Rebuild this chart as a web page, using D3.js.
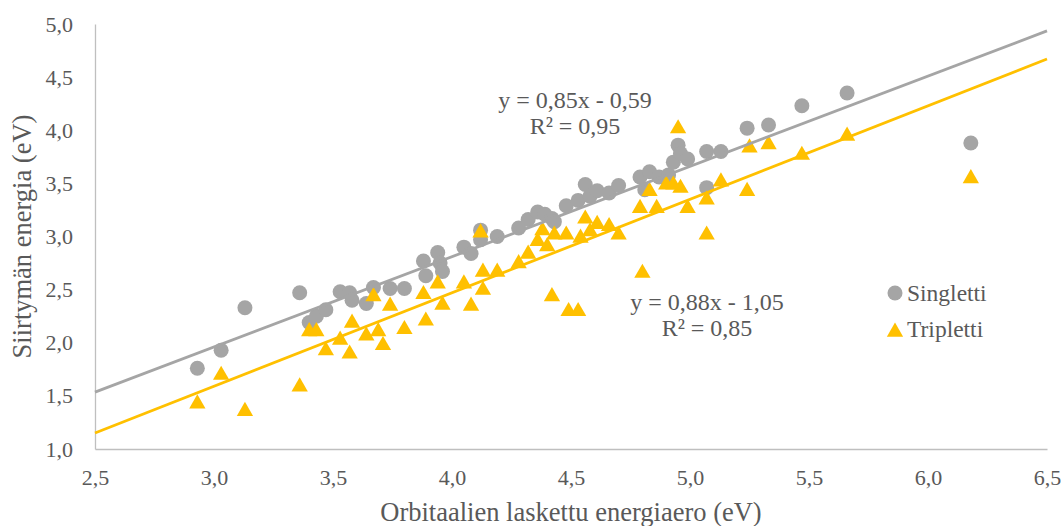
<!DOCTYPE html>
<html>
<head>
<meta charset="utf-8">
<script src="https://cdn.jsdelivr.net/npm/d3@7/dist/d3.min.js"></script>
<style>
  html, body { margin: 0; padding: 0; background: #ffffff; }
  svg { display: block; }
  text { font-family: "Liberation Serif", "Times New Roman", serif; fill: #595959; }
</style>
</head>
<body>
<svg id="chart" width="1064" height="526"></svg>
<script>
// Orbital energy gap (eV) vs. computed excitation energy (eV)
const singletX = [2.93, 3.03, 3.13, 3.36, 3.40, 3.43, 3.47, 3.53, 3.57, 3.58, 3.64, 3.67, 3.74, 3.80,
  3.88, 3.89, 3.94, 3.95, 3.96, 4.05, 4.08, 4.12, 4.12, 4.19, 4.28, 4.32, 4.36, 4.39, 4.42, 4.43,
  4.48, 4.53, 4.56, 4.58, 4.61, 4.66, 4.70, 4.79, 4.83, 4.81, 4.87, 4.91, 4.93, 4.95, 4.96, 4.99,
  5.07, 5.13, 5.07, 5.24, 5.33, 5.47, 5.66, 6.18];
const singletY = [1.76, 1.93, 2.33, 2.47, 2.19, 2.25, 2.31, 2.48, 2.47, 2.40, 2.37, 2.52, 2.51, 2.51,
  2.77, 2.63, 2.85, 2.75, 2.67, 2.90, 2.84, 3.06, 2.97, 3.00, 3.08, 3.16, 3.23, 3.21, 3.17, 3.14,
  3.29, 3.34, 3.49, 3.38, 3.43, 3.41, 3.48, 3.56, 3.61, 3.44, 3.56, 3.58, 3.70, 3.86, 3.78, 3.73,
  3.80, 3.80, 3.46, 4.02, 4.05, 4.23, 4.35, 3.88];

const tripletX = [2.93, 3.03, 3.13, 3.36, 3.40, 3.43, 3.47, 3.53, 3.57, 3.58, 3.64, 3.67, 3.69, 3.71,
  3.74, 3.80, 3.88, 3.89, 3.94, 3.96, 4.05, 4.08, 4.13, 4.13, 4.12, 4.19, 4.28, 4.32, 4.36, 4.38,
  4.40, 4.43, 4.42, 4.48, 4.49, 4.53, 4.54, 4.56, 4.58, 4.61, 4.66, 4.70, 4.79, 4.80, 4.83, 4.86,
  4.90, 4.93, 4.96, 4.95, 4.99, 5.07, 5.07, 5.13, 5.24, 5.25, 5.33, 5.47, 5.66, 6.18];
const tripletY = [1.44, 1.71, 1.37, 1.60, 2.12, 2.12, 1.94, 2.04, 1.91, 2.20, 2.08, 2.45, 2.12, 1.99,
  2.36, 2.14, 2.47, 2.22, 2.57, 2.37, 2.57, 2.36, 2.68, 2.51, 3.05, 2.68, 2.76, 2.85, 2.97, 3.07,
  2.92, 3.03, 2.45, 3.03, 2.31, 2.31, 3.00, 3.18, 3.06, 3.13, 3.11, 3.03, 3.28, 2.67, 3.44, 3.28,
  3.50, 3.50, 3.47, 4.03, 3.28, 3.36, 3.03, 3.53, 3.44, 3.85, 3.88, 3.78, 3.96, 3.56];

// Linear fits as reported on the chart: y = slope * x + intercept
const singletFit = { slope: 0.85, intercept: -0.59, r2: 0.95 };
const tripletFit = { slope: 0.88, intercept: -1.05, r2: 0.85 };

const xTicks = [2.5, 3.0, 3.5, 4.0, 4.5, 5.0, 5.5, 6.0, 6.5];
const yTicks = [1.0, 1.5, 2.0, 2.5, 3.0, 3.5, 4.0, 4.5, 5.0];
const seriesNames = ["Singletti", "Tripletti"];
const xTitle = "Orbitaalien laskettu energiaero (eV)";
const yTitle = "Siirtymän energia (eV)";

const colSinglet = "#a5a5a5";
const colTriplet = "#ffc000";
const axisColor = "#bfbfbf";

const fiLocale = d3.formatLocale({ decimal: ",", thousands: "\u00a0", grouping: [3], currency: ["", " €"] });
const fmt1 = fiLocale.format(".1f");
const fmt2 = fiLocale.format(".2f");

const svg = d3.select("#chart");
const x = d3.scaleLinear().domain([2.5, 6.5]).range([95, 1047]);
const y = d3.scaleLinear().domain([1.0, 5.0]).range([449, 24]);

// Axes
const xAxis = svg.append("g")
  .attr("transform", `translate(0,${y(1.0)})`)
  .call(d3.axisBottom(x).tickValues(xTicks).tickSize(0).tickPadding(20).tickFormat(fmt1));
const yAxis = svg.append("g")
  .attr("transform", `translate(${x(2.5)},0)`)
  .call(d3.axisLeft(y).tickValues(yTicks).tickSize(0).tickPadding(22).tickFormat(fmt1));

[xAxis, yAxis].forEach(g => {
  g.select(".domain").attr("stroke", axisColor).attr("stroke-width", 1.3);
  g.selectAll(".tick text")
    .attr("fill", "#595959")
    .style("font-family", "'Liberation Serif', 'Times New Roman', serif")
    .style("font-size", "22px");
});

// Axis titles
svg.append("text")
  .attr("x", (x(2.5) + x(6.5)) / 2)
  .attr("y", 521)
  .attr("text-anchor", "middle")
  .style("font-size", "26.5px")
  .text(xTitle);
svg.append("text")
  .attr("transform", `translate(31,${(y(1.0) + y(5.0)) / 2}) rotate(-90)`)
  .attr("text-anchor", "middle")
  .style("font-size", "26.5px")
  .text(yTitle);

// Markers
const tri = d3.symbol().type(d3.symbolTriangle).size(115);

svg.append("g").selectAll("circle")
  .data(singletX.map((v, i) => [v, singletY[i]]))
  .join("circle")
  .attr("cx", d => x(d[0]))
  .attr("cy", d => y(d[1]))
  .attr("r", 7.5)
  .attr("fill", colSinglet);

svg.append("g").selectAll("path")
  .data(tripletX.map((v, i) => [v, tripletY[i]]))
  .join("path")
  .attr("d", tri)
  .attr("transform", d => `translate(${x(d[0])},${y(d[1]) + 1.5})`)
  .attr("fill", colTriplet);

// Trend lines across the full x range
const fitLine = d3.line().x(d => x(d[0])).y(d => y(d[1]));
[[singletFit, colSinglet], [tripletFit, colTriplet]].forEach(([f, c]) => {
  const pts = [2.5, 6.5].map(v => [v, f.slope * v + f.intercept]);
  svg.append("path")
    .attr("d", fitLine(pts))
    .attr("stroke", c)
    .attr("stroke-width", 2.8)
    .attr("fill", "none");
});

// Fit equations
function eqText(f) {
  const sign = f.intercept < 0 ? "-" : "+";
  return `y = ${fmt2(f.slope)}x ${sign} ${fmt2(Math.abs(f.intercept))}`;
}
function addEq(f, cx, cy, gap) {
  svg.append("text").attr("x", cx).attr("y", cy).attr("text-anchor", "middle")
    .style("font-size", "24px").text(eqText(f));
  svg.append("text").attr("x", cx).attr("y", cy + gap).attr("text-anchor", "middle")
    .style("font-size", "24px").text(`R² = ${fmt2(f.r2)}`);
}
addEq(singletFit, 575, 108, 26);
addEq(tripletFit, 707, 310, 26);

// Legend
const legend = svg.append("g");
legend.append("circle").attr("cx", 895).attr("cy", 293).attr("r", 7.5).attr("fill", colSinglet);
legend.append("path").attr("d", tri).attr("transform", "translate(895,332)").attr("fill", colTriplet);
legend.append("text").attr("x", 907).attr("y", 301).style("font-size", "23.5px").text(seriesNames[0]);
legend.append("text").attr("x", 907).attr("y", 337).style("font-size", "23.5px").text(seriesNames[1]);
</script>
</body>
</html>
